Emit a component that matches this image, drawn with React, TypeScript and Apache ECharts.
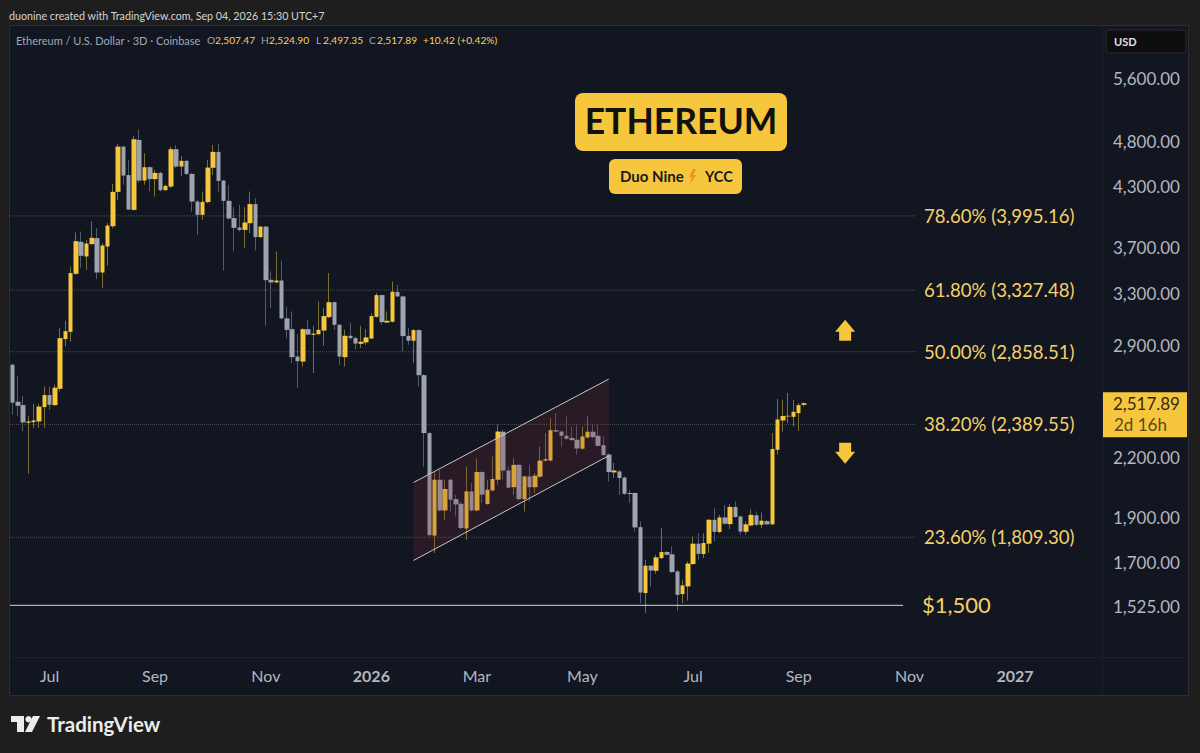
import React from 'react';
import * as echarts from 'echarts';

// 3D candles, oldest first (ETH/USD, Coinbase)
const opens = [
  2768, 2527, 2506, 2399, 2403, 2407, 2494, 2569, 2506, 2609,
  2949, 3002, 3464, 3748, 3615, 3727, 3782, 3475, 3705, 3895,
  4239, 4739, 4418, 4055, 4818, 4359, 4505, 4374, 4442, 4257,
  4295, 4709, 4512, 4576, 4431, 4139, 4006, 4133, 4498, 4678,
  4359, 4146, 3974, 3882, 3860, 3924, 4113, 3792, 3891, 3413,
  3391, 3407, 3103, 3022, 2825, 2790, 3022, 2980, 2985, 3012,
  3113, 3230, 3055, 2821, 2973, 2956, 2915, 2925, 2953, 3115,
  3287, 3072, 3078, 3312, 3276, 2973, 2937, 3015, 2698, 2339,
  1817, 2085, 1933, 2085, 1988, 1965, 1849, 2026, 1933, 2125,
  1964, 2031, 2085, 2347, 2133, 2047, 2163, 1988, 2102, 2047,
  2101, 2186, 2186, 2356, 2348, 2324, 2311, 2301, 2251, 2314,
  2347, 2324, 2271, 2219, 2123, 2128, 2096, 2018, 2018, 1855,
  1577, 1687, 1666, 1719, 1745, 1735, 1663, 1573, 1603, 1694,
  1781, 1736, 1781, 1889, 1833, 1900, 1869, 1950, 1904, 1834,
  1863, 1910, 1866, 1883, 1868, 2245, 2413, 2437, 2435, 2457,
  2507.47,
];
const closes = [
  2522, 2502, 2401, 2407, 2413, 2497, 2569, 2508, 2616, 2956,
  3007, 3470, 3754, 3621, 3732, 3785, 3475, 3714, 3901, 4239,
  4739, 4413, 4058, 4826, 4359, 4505, 4374, 4442, 4257, 4302,
  4709, 4512, 4576, 4431, 4139, 4006, 4136, 4501, 4678, 4355,
  4146, 3970, 3879, 3860, 3931, 4113, 3792, 3891, 3410, 3391,
  3407, 3103, 3017, 2821, 2793, 3022, 2982, 2989, 3017, 3121,
  3230, 3055, 2825, 2973, 2956, 2917, 2930, 2961, 3121, 3287,
  3075, 3085, 3314, 3276, 2971, 2937, 3015, 2698, 2339, 1819,
  2085, 1933, 2038, 1985, 1962, 1851, 2026, 1933, 2125, 2010,
  2034, 2089, 2348, 2133, 2045, 2163, 1988, 2102, 2047, 2106,
  2186, 2194, 2356, 2348, 2324, 2307, 2299, 2252, 2320, 2347,
  2316, 2267, 2216, 2125, 2133, 2094, 2014, 2013, 1854, 1579,
  1687, 1667, 1722, 1745, 1733, 1661, 1570, 1607, 1696, 1781,
  1737, 1784, 1889, 1834, 1900, 1871, 1950, 1902, 1835, 1868,
  1912, 1866, 1885, 1868, 2249, 2419, 2440, 2441, 2465, 2506,
  2517.89,
];
const lows = [
  2447, 2441, 2348, 2116, 2370, 2370, 2370, 2477, 2502, 2592,
  2896, 2932, 3455, 3513, 3498, 3720, 3419, 3344, 3533, 3876,
  4156, 4313, 4055, 4048, 4331, 4313, 4242, 4190, 4242, 4250,
  4278, 4494, 4410, 4420, 4038, 3813, 3957, 4123, 4420, 4242,
  3490, 3957, 3660, 3844, 3690, 3829, 3669, 3782, 3047, 3183,
  3386, 3098, 2956, 2779, 2616, 2756, 2980, 2712, 2980, 2901,
  3106, 3017, 2768, 2756, 2944, 2877, 2884, 2908, 2949, 3110,
  3055, 3068, 3072, 3271, 2860, 2908, 2779, 2624, 2151, 1813,
  1741, 1928, 1889, 1928, 1904, 1843, 1798, 1928, 1928, 1969,
  1960, 2026, 2060, 2085, 2042, 2009, 1981, 1928, 1977, 2018,
  2094, 2181, 2181, 2345, 2263, 2301, 2297, 2218, 2245, 2308,
  2308, 2263, 2211, 2076, 2094, 2009, 2009, 1969, 1835, 1538,
  1502, 1603, 1654, 1715, 1730, 1657, 1508, 1538, 1548, 1690,
  1712, 1719, 1741, 1791, 1828, 1866, 1846, 1897, 1821, 1821,
  1858, 1860, 1851, 1866, 1866, 2218, 2348, 2397, 2377, 2352,
  2497.35,
];
const highs = [
  2775, 2690, 2564, 2441, 2514, 2514, 2624, 2624, 2636, 3030,
  3085, 3527, 3835, 3844, 3766, 3941, 3876, 3736, 3924, 4323,
  4770, 4747, 4587, 4866, 4947, 4663, 4512, 4475, 4456, 4313,
  4739, 4759, 4632, 4587, 4438, 4156, 4242, 4587, 4759, 4770,
  4366, 4313, 4082, 4106, 4082, 4242, 4173, 3898, 3898, 3484,
  3660, 3579, 3195, 3157, 2985, 3030, 3093, 3047, 3235, 3183,
  3470, 3235, 3060, 3017, 3068, 2968, 3047, 3022, 3144, 3303,
  3290, 3157, 3399, 3371, 3282, 3030, 3022, 3022, 2705, 2345,
  2128, 2137, 2085, 2090, 2009, 1976, 2154, 2068, 2199, 2130,
  2085, 2208, 2388, 2358, 2154, 2199, 2168, 2106, 2163, 2120,
  2263, 2339, 2427, 2457, 2354, 2437, 2377, 2388, 2377, 2437,
  2388, 2388, 2320, 2225, 2172, 2137, 2102, 2034, 2022, 1881,
  1712, 1691, 1733, 1851, 1749, 1769, 1670, 1630, 1705, 1813,
  1828, 1828, 1893, 1944, 1912, 1960, 1964, 1977, 1910, 1881,
  1939, 1928, 1923, 1888, 2339, 2544, 2539, 2582, 2539, 2519,
  2524.9,
];

// time scale: one slot per 3D bar, the tail of it is empty future
const slotCount = 207;
const firstBar = Date.UTC(2025, 5, 11);
const slots = Array.from({ length: slotCount }, (_, i) =>
  new Date(firstBar + i * 3 * 864e5).toISOString().slice(0, 10)
);
const xTickSlots = [7, 27, 48, 68, 88, 108, 129, 149, 170, 190];
const xTickLabels = ['Jul', 'Sep', 'Nov', '2026', 'Mar', 'May', 'Jul', 'Sep', 'Nov', '2027'];

const priceTicks = [5600, 4800, 4300, 3700, 3300, 2900, 2200, 1900, 1700, 1525];

const fibPrices = [3995.16, 3327.48, 2858.51, 2389.55, 1809.3];
const fibLabels = ['78.60% (3,995.16)', '61.80% (3,327.48)', '50.00% (2,858.51)', '38.20% (2,389.55)', '23.60% (1,809.30)'];
const supportPrice = 1530;
const supportLabel = '$1,500';

const channelSlots = [76, 113];
const channelUpper = [2071, 2672];
const channelLower = [1709, 2212];

const upArrowPrice = 3002;
const downArrowPrice = 2234;
const arrowSlot = 158;

const lastPrice = 2517.89;

const BG = '#1e1e1e';
const PANEL = '#121620';
const LINE = '#2a2d35';
const YELLOW = '#f6c63c';
const GREY = '#9ea3b0';
const LABEL = '#f5d06a';
const AXIS_TEXT = '#b4b7c0';
const FONT = 'Lato, "Noto Sans", sans-serif';

const txt = (x: number, y: number, text: string, fill: string, fontSize: number, extra: any = {}) => ({
  type: 'text',
  x,
  y,
  z: 7,
  silent: true,
  style: { text, fill, fontSize, fontFamily: FONT, textVerticalAlign: 'middle', ...extra },
});

const App: React.FC = () => {
  const chartRef = React.useRef<HTMLDivElement>(null);

  React.useEffect(() => {
    if (!chartRef.current) return;
    const chart = echarts.init(chartRef.current, undefined, { renderer: 'svg' });

    const candleData = opens.map((o, i) => [o, closes[i], lows[i], highs[i]]);
    const bodyData = opens.map((o, i) => [o, closes[i], Math.min(o, closes[i]), Math.max(o, closes[i])]);

    chart.setOption({
      animation: false,
      backgroundColor: BG,
      grid: { left: 10, right: 98, top: 26, bottom: 96, backgroundColor: PANEL, show: true, borderWidth: 0 },
      xAxis: {
        type: 'category',
        data: slots,
        boundaryGap: true,
        axisLine: { show: false },
        axisTick: { show: false },
        splitLine: { show: false },
        axisLabel: {
          interval: (i: number) => xTickSlots.includes(i),
          hideOverlap: false,
          margin: 10,
          color: AXIS_TEXT,
          fontFamily: FONT,
          fontSize: 16,
          formatter: (_v: string, i: number) => {
            const label = xTickLabels[xTickSlots.indexOf(i)] ?? '';
            return /^\d+$/.test(label) ? `{b|${label}}` : label;
          },
          rich: { b: { fontWeight: 'bold', fontSize: 16, color: AXIS_TEXT, fontFamily: FONT } },
        },
      },
      yAxis: {
        type: 'log',
        logBase: Math.E,
        min: 1347,
        max: 6380,
        position: 'right',
        axisLine: { show: false },
        axisTick: { show: false },
        axisLabel: { show: false },
        splitLine: { show: false },
      },
      series: [
        {
          // wicks, muted like the thin lines on the reference
          type: 'candlestick',
          data: candleData,
          barWidth: 1,
          silent: true,
          itemStyle: { color: '#7d7034', color0: '#535a6a', borderColor: '#7d7034', borderColor0: '#535a6a', borderWidth: 1 },
        },
        {
          type: 'candlestick',
          data: bodyData,
          barWidth: 5,
          silent: true,
          itemStyle: { color: YELLOW, color0: GREY, borderColor: YELLOW, borderColor0: GREY, borderWidth: 0 },
        },
        {
          // channel drawing over the candles
          type: 'custom',
          silent: true,
          z: 5,
          data: [[channelSlots[0], channelUpper[0]]],
          renderItem: (_p: any, api: any) => {
            const a = api.coord([channelSlots[0], channelUpper[0]]);
            const b = api.coord([channelSlots[1], channelUpper[1]]);
            const c = api.coord([channelSlots[1], channelLower[1]]);
            const d = api.coord([channelSlots[0], channelLower[0]]);
            const stroke = { stroke: '#c9c5c8', lineWidth: 1 };
            return {
              type: 'group',
              children: [
                { type: 'polygon', shape: { points: [a, b, c, d] }, style: { fill: 'rgba(122,48,62,0.23)' } },
                { type: 'line', shape: { x1: a[0], y1: a[1], x2: b[0], y2: b[1] }, style: stroke },
                { type: 'line', shape: { x1: d[0], y1: d[1], x2: c[0], y2: c[1] }, style: stroke },
              ],
            };
          },
        },
        {
          // fib levels and their labels
          type: 'custom',
          silent: true,
          z: 1,
          data: fibPrices.map((p, i) => [i, p]),
          renderItem: (p: any, api: any) => {
            const i = api.value(0);
            const y = api.coord([0, api.value(1)])[1];
            const sys = p.coordSys;
            return {
              type: 'group',
              children: [
                {
                  type: 'line',
                  shape: { x1: sys.x, y1: y, x2: 915, y2: y },
                  style: { stroke: '#4c4d52', lineWidth: 1, lineDash: [1, 1] },
                },
                {
                  type: 'text',
                  x: 924,
                  y,
                  style: { text: fibLabels[i], fill: LABEL, fontSize: 18.6, fontFamily: FONT, textVerticalAlign: 'middle' },
                },
              ],
            };
          },
        },
        {
          // $1,500 support
          type: 'custom',
          silent: true,
          z: 4,
          data: [[0, supportPrice]],
          renderItem: (p: any, api: any) => {
            const y = api.coord([0, api.value(1)])[1];
            return {
              type: 'group',
              children: [
                { type: 'line', shape: { x1: p.coordSys.x, y1: y, x2: 903, y2: y }, style: { stroke: '#d8d8d8', lineWidth: 1 } },
                {
                  type: 'text',
                  x: 922,
                  y: y - 1,
                  style: { text: supportLabel, fill: LABEL, fontSize: 22, fontFamily: FONT, textVerticalAlign: 'middle' },
                },
              ],
            };
          },
        },
        {
          // price scale labels: the log axis can't take TradingView's uneven ticks
          type: 'custom',
          silent: true,
          z: 6,
          data: priceTicks.map((p) => [0, p]),
          renderItem: (_p: any, api: any) => {
            const price = api.value(1);
            return {
              type: 'text',
              x: 1180,
              y: api.coord([0, price])[1],
              style: {
                text: price.toLocaleString('en-US', { minimumFractionDigits: 2 }),
                fill: AXIS_TEXT,
                fontSize: 17,
                fontFamily: FONT,
                textAlign: 'right',
                textVerticalAlign: 'middle',
              },
            };
          },
        },
        {
          // up / down arrows
          type: 'custom',
          silent: true,
          z: 6,
          data: [[arrowSlot, upArrowPrice], [arrowSlot, downArrowPrice]],
          renderItem: (_p: any, api: any) => {
            const [x0, y] = api.coord([api.value(0), api.value(1)]);
            const x = x0 - 1;
            const dir = api.value(1) === upArrowPrice ? 1 : -1;
            const pts = [
              [x, y - 12 * dir], [x + 10, y], [x + 6, y], [x + 6, y + 9 * dir],
              [x - 6, y + 9 * dir], [x - 6, y], [x - 10, y],
            ];
            return { type: 'polygon', shape: { points: pts }, style: { fill: YELLOW } };
          },
        },
        {
          // last price tag on the scale
          type: 'custom',
          silent: true,
          z: 8,
          data: [[0, lastPrice]],
          renderItem: (_p: any, api: any) => {
            const y = api.coord([0, api.value(1)])[1];
            return {
              type: 'group',
              children: [
                { type: 'rect', shape: { x: 1103, y: y - 11, width: 84, height: 45 }, style: { fill: YELLOW } },
                {
                  type: 'text',
                  x: 1180,
                  y,
                  style: { text: '2,517.89', fill: '#33291a', fontSize: 17, fontFamily: FONT, textAlign: 'right', textVerticalAlign: 'middle' },
                },
                {
                  type: 'text',
                  x: 1114,
                  y: y + 21,
                  style: { text: '2d 16h', fill: '#5a4a1c', fontSize: 17, fontFamily: FONT, textVerticalAlign: 'middle' },
                },
              ],
            };
          },
        },
      ],
      graphic: [
        // frame around chart, time axis and price axis
        { type: 'rect', shape: { x: 1103, y: 26, width: 85, height: 669 }, style: { fill: PANEL }, z: 0, silent: true },
        { type: 'rect', shape: { x: 10, y: 657, width: 1093, height: 38 }, style: { fill: PANEL }, z: 0, silent: true },
        { type: 'rect', shape: { x: 9.5, y: 25.5, width: 1179, height: 670 }, style: { fill: 'none', stroke: LINE }, z: 3, silent: true },
        { type: 'line', shape: { x1: 10, y1: 657.5, x2: 1188, y2: 657.5 }, style: { stroke: '#1d2029' }, z: 3, silent: true },
        { type: 'line', shape: { x1: 1102.5, y1: 26, x2: 1102.5, y2: 695 }, style: { stroke: '#1d2029' }, z: 3, silent: true },

        txt(9, 15, 'duonine created with TradingView.com, Sep 04, 2026 15:30 UTC+7', '#d4d4d4', 10.7),

        txt(16, 40, 'Ethereum / U.S. Dollar · 3D · Coinbase', '#a3a7b1', 11),
        txt(207, 40, 'O', '#a3a7b1', 10.2),
        txt(215, 40, '2,507.47', LABEL, 10.2),
        txt(261, 40, 'H', '#a3a7b1', 10.2),
        txt(269, 40, '2,524.90', LABEL, 10.2),
        txt(316, 40, 'L', '#a3a7b1', 10.2),
        txt(323, 40, '2,497.35', LABEL, 10.2),
        txt(369, 40, 'C', '#a3a7b1', 10.2),
        txt(377, 40, '2,517.89', LABEL, 10.2),
        txt(423, 40, '+10.42 (+0.42%)', LABEL, 10.2),

        // USD box
        { type: 'rect', shape: { x: 1106, y: 30, width: 80, height: 23, r: 3 }, style: { fill: '#0e0e0e', stroke: '#2c2c2c' }, z: 4, silent: true },
        txt(1114, 41, 'USD', '#e0e0e0', 11, { fontWeight: 'bold' }),

        // title badges
        { type: 'rect', shape: { x: 575, y: 93, width: 212, height: 58, r: 8 }, style: { fill: YELLOW }, z: 6, silent: true },
        txt(681, 120, 'ETHEREUM', '#111111', 35.5, { textAlign: 'center', fontWeight: 'bold' }),
        { type: 'rect', shape: { x: 609, y: 159, width: 133, height: 35, r: 6 }, style: { fill: YELLOW }, z: 6, silent: true },
        txt(620, 176, 'Duo Nine', '#1a1a1a', 15, { fontWeight: 'bold' }),
        txt(705, 176, 'YCC', '#1a1a1a', 14.5, { fontWeight: 'bold' }),
        {
          type: 'polygon',
          shape: { points: [[693, 169], [689, 177], [692, 177], [690, 184], [696, 175], [693, 175], [696, 169]] },
          style: { fill: '#f08a2c' },
          z: 7,
          silent: true,
        },

        // TradingView mark
        {
          type: 'polygon',
          shape: { points: [[11, 716], [24, 716], [24, 732], [17, 732], [17, 722], [11, 722]] },
          style: { fill: '#ececec' },
          silent: true,
        },
        { type: 'circle', shape: { cx: 28.5, cy: 719.3, r: 3.2 }, style: { fill: '#ececec' }, silent: true },
        {
          type: 'polygon',
          shape: { points: [[33, 716], [40, 716], [32, 732], [25, 732]] },
          style: { fill: '#ececec' },
          silent: true,
        },
        txt(47, 724, 'TradingView', '#ececec', 20.5, { fontWeight: 'bold' }),
      ],
    });

    return () => {
      chart.dispose();
    };
  }, []);

  return (
    <div
      ref={chartRef}
      style={{ position: 'fixed', left: 0, top: 0, width: 1200, height: 753 }}
    />
  );
};

export default App;
